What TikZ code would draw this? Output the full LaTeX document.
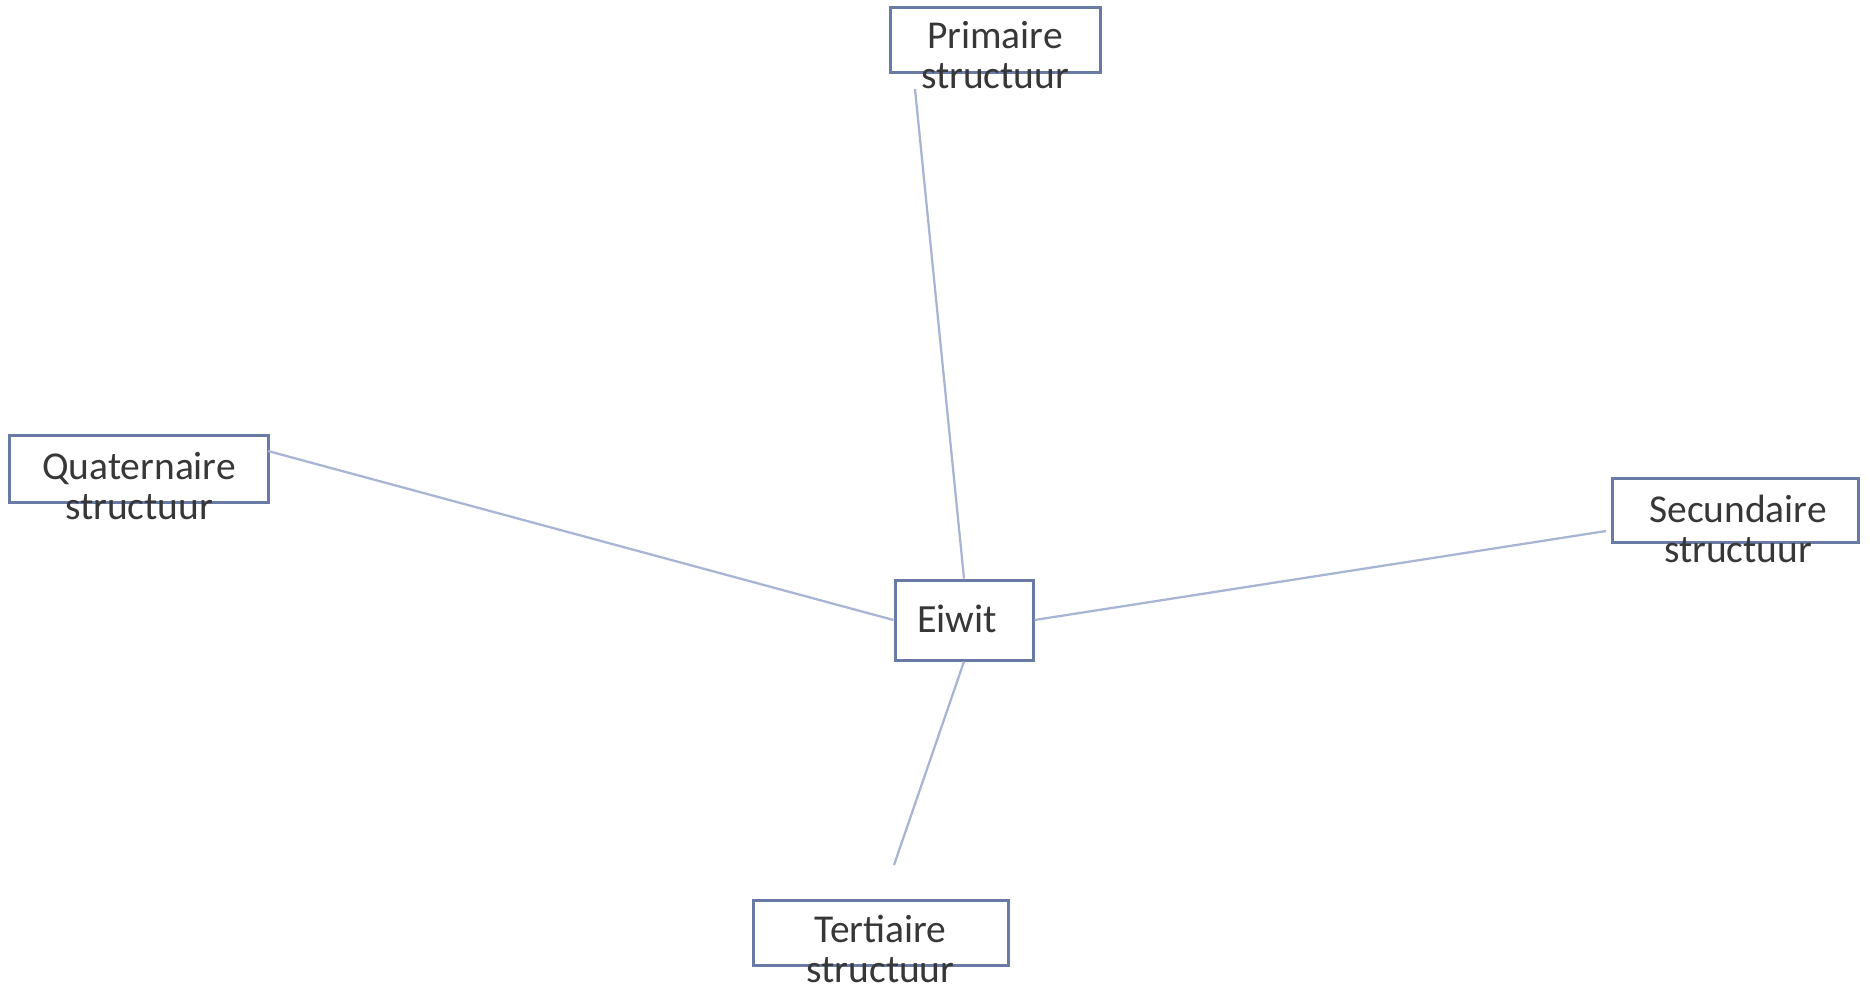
\documentclass[tikz,border=0pt]{standalone}
\usepackage{fontspec}
\setmainfont{Carlito}
\definecolor{boxline}{RGB}{105,122,165}
\definecolor{conn}{RGB}{168,180,212}
\definecolor{txt}{RGB}{55,55,55}
\begin{document}
\begin{tikzpicture}[x=0.4pt,y=-0.4pt,
  box/.style={draw=boxline,line width=1.2pt,fill=white,inner sep=0pt},
  lbl/.style={text=txt,font=\fontsize{15.8pt}{16pt}\selectfont,align=center,inner sep=0pt},
  conn/.style={draw=conn,line width=0.9pt}]
\useasboundingbox[fill=white] (0,0) rectangle (1870,995);
% boxes
\node[box,minimum width=84pt,minimum height=26pt] (prim) at (995,39.5) {};
\node[box,minimum width=55.2pt,minimum height=32pt] (eiwit) at (964,620) {};
\node[box,minimum width=103.2pt,minimum height=26.8pt] (quat) at (139,468.5) {};
\node[box,minimum width=98.4pt,minimum height=25.6pt] (sec) at (1735,510) {};
\node[box,minimum width=102pt,minimum height=26pt] (tert) at (880.5,932.5) {};
% free ends
\coordinate (p1) at (915,89);
\coordinate (q1) at (268,451);
\coordinate (s1) at (1606,531);
\coordinate (t1) at (894,865);
% connectors
\draw[conn] (p1) -- (eiwit.north);
\draw[conn] (q1) -- (eiwit.west);
\draw[conn] (s1) -- (eiwit.east);
\draw[conn] (eiwit.south) -- (t1);
% labels
\node[lbl] (primT) at (995,55) {Primaire\\structuur};
\node[lbl,font=\fontsize{16pt}{18pt}\selectfont] (eiwitT) at (957,619) {Eiwit};
\node[lbl] (quatT) at (139,486) {Quaternaire\\structuur};
\node[lbl] (secT) at (1738,529) {Secundaire\\structuur};
\node[lbl] (tertT) at (880.5,949) {Tertiaire\\structuur};
\end{tikzpicture}
\end{document}
